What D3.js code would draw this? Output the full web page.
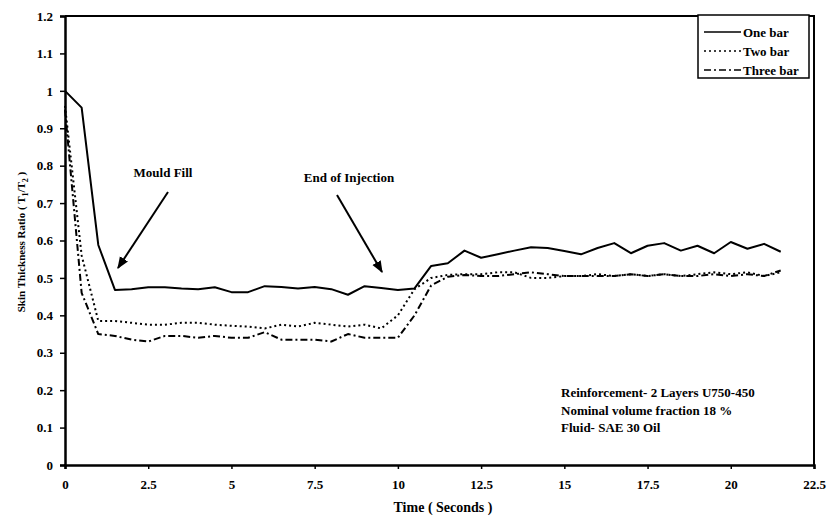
<!DOCTYPE html>
<html>
<head>
<meta charset="utf-8">
<script src="https://cdn.jsdelivr.net/npm/d3@7"></script>
<style>
  body { margin: 0; background: #fff; }
  text { font-family: "Liberation Serif", "Times New Roman", serif; font-weight: bold; fill: #000; }
</style>
</head>
<body>
<svg width="828" height="519"></svg>
<script>
// time in seconds, one reading every 0.5 s
const times = d3.range(0, 22, 0.5);

const oneBar = [1.0, 0.955, 0.588, 0.468, 0.47, 0.475, 0.475, 0.472, 0.47, 0.475,
  0.462, 0.462, 0.478, 0.476, 0.472, 0.476, 0.47, 0.455, 0.478, 0.473,
  0.468, 0.472, 0.532, 0.539, 0.573, 0.554, 0.563, 0.573, 0.582, 0.58,
  0.572, 0.563, 0.58, 0.593, 0.566, 0.586, 0.593, 0.573, 0.586, 0.566,
  0.596, 0.578, 0.591, 0.57];

const twoBar = [0.96, 0.56, 0.385, 0.385, 0.38, 0.375, 0.375, 0.38, 0.38, 0.375,
  0.372, 0.37, 0.365, 0.375, 0.37, 0.38, 0.375, 0.37, 0.375, 0.365,
  0.40, 0.47, 0.50, 0.508, 0.51, 0.51, 0.515, 0.515, 0.50, 0.50,
  0.505, 0.505, 0.51, 0.505, 0.51, 0.505, 0.51, 0.505, 0.51, 0.515,
  0.51, 0.515, 0.505, 0.515];

const threeBar = [0.95, 0.46, 0.35, 0.345, 0.335, 0.33, 0.345, 0.345, 0.34, 0.345,
  0.34, 0.34, 0.355, 0.335, 0.335, 0.335, 0.33, 0.35, 0.34, 0.34,
  0.34, 0.40, 0.48, 0.503, 0.508, 0.505, 0.505, 0.51, 0.515, 0.51,
  0.505, 0.505, 0.505, 0.505, 0.51, 0.505, 0.51, 0.505, 0.505, 0.51,
  0.505, 0.51, 0.505, 0.52];

const xTicks = [0, 2.5, 5, 7.5, 10, 12.5, 15, 17.5, 20, 22.5];
const yTicks = [0, 0.1, 0.2, 0.3, 0.4, 0.5, 0.6, 0.7, 0.8, 0.9, 1, 1.1, 1.2];

const seriesNames = ['One bar', 'Two bar', 'Three bar'];
const notes = ['Reinforcement- 2 Layers U750-450', 'Nominal volume fraction 18 %', 'Fluid- SAE 30 Oil'];

const svg = d3.select('svg'),
  margin = {top: 16, right: 14, bottom: 54, left: 65},
  width = +svg.attr('width') - margin.left - margin.right,
  height = +svg.attr('height') - margin.top - margin.bottom;

const x = d3.scaleLinear().domain([0, 22.5]).range([0, width]),
  y = d3.scaleLinear().domain([0, 1.2]).range([height, 0]);

const g = svg.append('g')
  .attr('transform', 'translate(' + margin.left + ',' + margin.top + ')');

// frame (top and right)
g.append('path')
  .attr('d', 'M0,' + y(1.2) + 'H' + x(22.5) + 'V' + y(0))
  .attr('fill', 'none').attr('stroke', '#000').attr('stroke-width', 2);

const fmt = d => d3.format('')(d);

const xAxis = g.append('g')
  .attr('transform', 'translate(0,' + height + ')')
  .call(d3.axisBottom(x).tickValues(xTicks).tickSize(4).tickPadding(11).tickFormat(fmt));
xAxis.selectAll('text').attr('font-size', 13);

const yAxis = g.append('g')
  .call(d3.axisLeft(y).tickValues(yTicks).tickSize(5).tickPadding(7).tickFormat(fmt));
yAxis.selectAll('text').attr('font-size', 13);

g.selectAll('.domain').attr('stroke-width', 2.5);
g.selectAll('.tick line').attr('stroke-width', 1.5);

// axis titles
g.append('text')
  .attr('x', 378).attr('y', height + 47)
  .attr('text-anchor', 'middle').attr('font-size', 14)
  .text('Time ( Seconds )');

const yt = svg.append('text')
  .attr('transform', 'translate(25,' + 242 + ') rotate(-90)')
  .attr('text-anchor', 'middle').attr('font-size', 11);
yt.append('tspan').text('Skin Thickness Ratio ( T');
yt.append('tspan').attr('font-size', 8).attr('dy', 3).text('1');
yt.append('tspan').attr('dy', -3).text('/T');
yt.append('tspan').attr('font-size', 8).attr('dy', 3).text('2');
yt.append('tspan').attr('dy', -3).text(' )');

// lines
const styles = [
  {data: oneBar, dash: null, w: 2},
  {data: twoBar, dash: '2,3', w: 2},
  {data: threeBar, dash: '7,3,2,3', w: 2}
];

const line = d3.line()
  .x((d, i) => x(times[i]))
  .y(d => y(d));

styles.forEach(s => {
  g.append('path')
    .datum(s.data)
    .attr('fill', 'none')
    .attr('stroke', '#000')
    .attr('stroke-width', s.w)
    .attr('stroke-dasharray', s.dash)
    .attr('stroke-linejoin', 'round')
    .attr('d', line);
});

// legend
const lg = svg.append('g').attr('transform', 'translate(698,15)');
lg.append('rect').attr('width', 111).attr('height', 63)
  .attr('fill', '#fff').attr('stroke', '#000').attr('stroke-width', 1.5);
seriesNames.forEach((name, i) => {
  const yy = 17 + i * 19;
  lg.append('line').attr('x1', 6).attr('x2', 43).attr('y1', yy).attr('y2', yy)
    .attr('stroke', '#000').attr('stroke-width', 1.5)
    .attr('stroke-dasharray', styles[i].dash);
  lg.append('text').attr('x', 45).attr('y', yy + 4.5).attr('font-size', 13).text(name);
});

// annotations
const defs = svg.append('defs');
defs.append('marker').attr('id', 'arr')
  .attr('viewBox', '0 0 10 10').attr('refX', 9).attr('refY', 5)
  .attr('markerWidth', 6).attr('markerHeight', 6)
  .attr('orient', 'auto')
  .append('path').attr('d', 'M0,1 L10,5 L0,9 Z').attr('fill', '#000');

const arrows = [
  {label: 'Mould Fill', tx: 163, ty: 177, x1: 168, y1: 192, x2: 118, y2: 268},
  {label: 'End of Injection', tx: 349, ty: 182, x1: 337, y1: 195, x2: 382, y2: 272}
];
arrows.forEach(a => {
  svg.append('text').attr('x', a.tx).attr('y', a.ty)
    .attr('text-anchor', 'middle').attr('font-size', 13).text(a.label);
  svg.append('line').attr('x1', a.x1).attr('y1', a.y1).attr('x2', a.x2).attr('y2', a.y2)
    .attr('stroke', '#000').attr('stroke-width', 2).attr('marker-end', 'url(#arr)');
});

notes.forEach((t, i) => {
  svg.append('text').attr('x', 561).attr('y', 397 + i * 17.5)
    .attr('font-size', 13).text(t);
});
</script>
</body>
</html>
